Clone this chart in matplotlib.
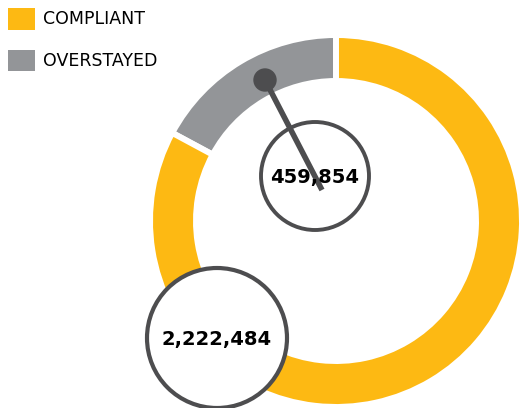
import matplotlib
matplotlib.use("Agg")
import matplotlib.pyplot as plt
from matplotlib.patches import Circle, Patch

labels = ["COMPLIANT", "OVERSTAYED"]
values = [2222484, 459854]
colors = ["#FDB913", "#939598"]
dark = "#4D4D4F"

W, H = 520, 408
fig = plt.figure(figsize=(W / 100, H / 100), dpi=100)
ax = fig.add_axes([0, 0, 1, 1])

# donut, overstayed drawn first so it sits counter-clockwise from 12 o'clock
cx, cy = 336, H - 221
R, ring = 186, 46
wedges, _ = ax.pie(values[::-1], colors=colors[::-1], startangle=90,
                   counterclock=True, radius=R, center=(cx, cy),
                   wedgeprops=dict(width=ring, edgecolor="white", linewidth=4.3))

# pointer from the grey arc to the small bubble
ax.plot([265, 322], [H - 80, H - 190], color=dark, lw=4, solid_capstyle="butt", zorder=5)
ax.add_patch(Circle((265, H - 80), 11, color=dark, zorder=6))

# value bubbles
ax.add_patch(Circle((315, H - 176), 54, facecolor="none", edgecolor=dark, lw=2.8, zorder=4))
ax.add_patch(Circle((217, H - 338), 70, facecolor="white", edgecolor=dark, lw=3, zorder=4))
ax.text(315, H - 177, f"{values[1]:,}", ha="center", va="center", fontsize=14,
        fontweight="bold", family="DejaVu Sans", zorder=7)
ax.text(217, H - 339, f"{values[0]:,}", ha="center", va="center", fontsize=14,
        fontweight="bold", family="DejaVu Sans", zorder=7)

handles = [Patch(facecolor=c) for c in colors]
ax.legend(handles, labels, loc="upper left", bbox_to_anchor=(0, 1), frameon=False,
          prop=dict(family="DejaVu Sans", size=12.5), handlelength=1.55, handleheight=1.55,
          labelspacing=1.15, handletextpad=0.45, borderaxespad=0.25, borderpad=0.2)

ax.set_xlim(0, W)
ax.set_ylim(0, H)
ax.set_aspect("equal")
ax.axis("off")
fig.savefig("out.png", dpi=100)
